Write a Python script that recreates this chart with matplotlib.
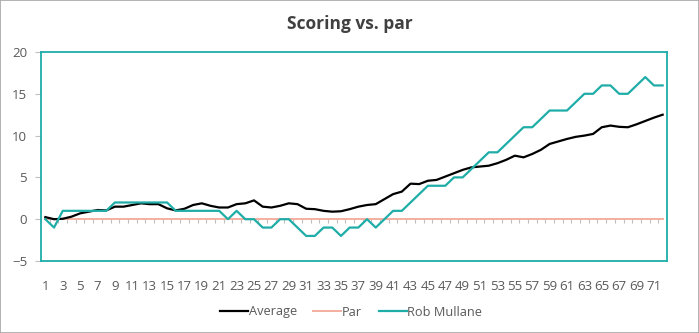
import numpy as np
import matplotlib
matplotlib.use("Agg")
import matplotlib.pyplot as plt
from matplotlib.patches import Rectangle

plt.rcParams['font.family'] = ['Open Sans', 'DejaVu Sans']

holes = list(range(1, 73))

average = [0.25, 0.0, 0.05, 0.3, 0.7, 0.9, 1.1, 1.05, 1.5, 1.5,
           1.7, 1.9, 1.8, 1.8, 1.3, 1.05, 1.25, 1.7, 1.9, 1.6,
           1.4, 1.4, 1.8, 1.9, 2.25, 1.5, 1.4, 1.6, 1.9, 1.8,
           1.25, 1.2, 1.0, 0.9, 0.95, 1.2, 1.5, 1.7, 1.8, 2.4,
           3.0, 3.3, 4.25, 4.2, 4.6, 4.7, 5.1, 5.5, 5.9, 6.2,
           6.3, 6.4, 6.7, 7.1, 7.6, 7.4, 7.8, 8.3, 9.0, 9.3,
           9.6, 9.85, 10.0, 10.2, 11.0, 11.2, 11.05, 11.0, 11.35, 11.75,
           12.15, 12.5]

par = [0] * 72

rob_mullane = [0, -1, 1, 1, 1, 1, 1, 1, 2, 2,
               2, 2, 2, 2, 2, 1, 1, 1, 1, 1,
               1, 0, 1, 0, 0, -1, -1, 0, 0, -1,
               -2, -2, -1, -1, -2, -1, -1, 0, -1, 0,
               1, 1, 2, 3, 4, 4, 4, 5, 5, 6,
               7, 8, 8, 9, 10, 11, 11, 12, 13, 13,
               13, 14, 15, 15, 16, 16, 15, 15, 16, 17,
               16, 16]

y_ticks = [-5, 0, 5, 10, 15, 20]

TEAL = '#1FADA8'
PAR_COLOR = '#F4AE9E'
TEXT = '#595959'
GREY = '#BFBFBF'

fig = plt.figure(figsize=(6.99, 3.33), dpi=100)
fig.patches.append(Rectangle((0, 0), 1, 1, transform=fig.transFigure,
                             fill=False, edgecolor='#A6A6A6', linewidth=1.2))
ax = fig.add_axes([41 / 699, 1 - 261 / 333, 626 / 699, 209 / 333])

ax.plot(holes, average, color='black', lw=1.6, label='Average', zorder=4)
ax.plot(holes, par, color=PAR_COLOR, lw=1.4, label='Par', zorder=3)
ax.plot(holes, rob_mullane, color=TEAL, lw=1.6, label='Rob Mullane', zorder=5)

# category tick marks along the zero line
bounds = np.arange(0.5, len(holes) + 1, 1)
ax.vlines(bounds, -0.5, 0, color=GREY, lw=0.8, zorder=2)

ax.set_xlim(0.5, len(holes) + 0.5)
ax.set_ylim(-5, 20)
ax.set_yticks(y_ticks)
ax.set_xticks(holes[::2])
ax.set_xticklabels([str(h) for h in holes[::2]])
ax.tick_params(axis='x', length=0, pad=14, labelsize=9.5, labelcolor=TEXT)
ax.tick_params(axis='y', length=4, color=GREY, width=0.8, pad=6,
               labelsize=9.5, labelcolor=TEXT)

for s in ax.spines.values():
    s.set_color(TEAL)
    s.set_linewidth(1.3)

fig.text(0.5, 1 - 24 / 333, 'Scoring vs. par', ha='center', va='center',
         fontsize=12.5, fontweight='bold', color='#404040')

fig.legend(loc='center', bbox_to_anchor=(351 / 699, 1 - 312 / 333), ncol=3,
           frameon=False, fontsize=9.2, labelcolor=TEXT, handlelength=2.2,
           handletextpad=0.05, columnspacing=1.3)

fig.savefig('out.png', dpi=100)
